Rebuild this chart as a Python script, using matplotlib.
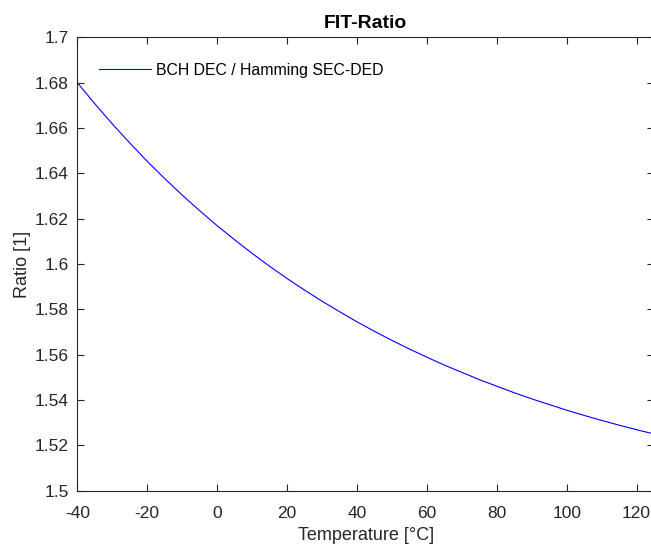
import matplotlib.pyplot as plt
import numpy as np

plt.rcParams['font.family'] = ['Liberation Sans', 'DejaVu Sans']
plt.rcParams['axes.unicode_minus'] = False

# values, every 5 degC
temperature = [-40, -35, -30, -25, -20, -15, -10, -5, 0, 5, 10, 15, 20, 25, 30, 35, 40,
               45, 50, 55, 60, 65, 70, 75, 80, 85, 90, 95, 100, 105, 110, 115, 120, 125]
ratio = [1.6800, 1.6707, 1.6618, 1.6534, 1.6453, 1.6377, 1.6304, 1.6235, 1.6169,
         1.6107, 1.6047, 1.5990, 1.5936, 1.5885, 1.5836, 1.5790, 1.5745, 1.5703,
         1.5663, 1.5625, 1.5589, 1.5554, 1.5522, 1.5490, 1.5461, 1.5432, 1.5405,
         1.5380, 1.5355, 1.5332, 1.5310, 1.5289, 1.5269, 1.5250]

xticks = np.arange(-40, 121, 20)
yticks = np.arange(1.5, 1.701, 0.02)
ytick_labels = ['1.5', '1.52', '1.54', '1.56', '1.58', '1.6', '1.62', '1.64', '1.66', '1.68', '1.7']

dark = '#262626'

fig = plt.figure(figsize=(6.51, 5.44), dpi=100)
ax = fig.add_axes([0.1187, 0.098, 0.886, 0.8335])
ax.plot(temperature, ratio, color='#0000ff', linewidth=0.8, label='BCH DEC / Hamming SEC-DED')

ax.set_xlim(-40, 125)
ax.set_ylim(1.5, 1.7)
ax.set_xticks(xticks)
ax.set_yticks(yticks)
ax.set_yticklabels(ytick_labels)
ax.tick_params(direction='in', length=5, width=0.8, top=True, right=True,
               labelsize=12.5, colors=dark)
ax.tick_params(axis='x', pad=11)
ax.tick_params(axis='y', pad=6)
for s in ax.spines.values():
    s.set_color(dark)
    s.set_linewidth(0.8)

ax.set_title('FIT-Ratio', fontsize=14, fontweight='bold', color='black', pad=7)
ax.set_xlabel('Temperature [°C]', fontsize=13, color=dark, labelpad=4)
ax.set_ylabel('Ratio [1]', fontsize=13, color=dark, labelpad=3)

ax.legend(loc='upper left', frameon=False, fontsize=11.4, handlelength=3.3,
          bbox_to_anchor=(0.013, 0.975), handletextpad=0.3)

fig.savefig('out.png', dpi=100)
